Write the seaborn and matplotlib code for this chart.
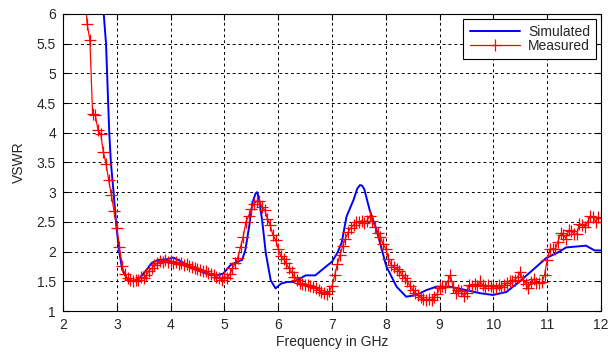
import numpy as np
import pandas as pd
import matplotlib
matplotlib.use("Agg")
import matplotlib.pyplot as plt
import seaborn as sns
from matplotlib.ticker import FuncFormatter

# ---- data ----
sim_freq = [2.74, 2.80, 2.82, 2.84, 2.86, 2.89, 2.94, 2.99, 3.04, 3.10, 3.19, 3.31, 3.43, 3.56,
            3.65, 3.77, 3.93, 4.05, 4.14, 4.30, 4.48, 4.66, 4.86, 4.98, 5.11, 5.24, 5.33, 5.39,
            5.46, 5.52, 5.58, 5.61, 5.64, 5.70, 5.77, 5.86, 5.95, 6.05, 6.17, 6.29, 6.41, 6.51,
            6.69, 6.85, 7.00, 7.10, 7.18, 7.27, 7.40, 7.47, 7.52, 7.56, 7.60, 7.70, 7.83, 8.01,
            8.20, 8.38, 8.57, 8.75, 8.94, 9.19, 9.50, 9.75, 9.99, 10.24, 10.48, 10.73, 10.98,
            11.23, 11.35, 11.60, 11.72, 11.88, 12.00]
sim_vswr = [6.20, 5.50, 5.00, 4.50, 4.00, 3.50, 3.00, 2.45, 2.03, 1.70, 1.54, 1.50, 1.56, 1.70,
            1.81, 1.86, 1.87, 1.90, 1.86, 1.78, 1.70, 1.63, 1.60, 1.63, 1.77, 1.83, 1.86, 2.03,
            2.42, 2.82, 2.98, 3.00, 2.90, 2.54, 1.97, 1.52, 1.38, 1.46, 1.49, 1.49, 1.55, 1.60,
            1.60, 1.72, 1.83, 1.98, 2.15, 2.59, 2.87, 3.06, 3.12, 3.11, 3.05, 2.70, 2.36, 1.75,
            1.41, 1.24, 1.27, 1.35, 1.41, 1.41, 1.35, 1.30, 1.27, 1.32, 1.49, 1.69, 1.89,
            2.00, 2.07, 2.09, 2.10, 2.02, 2.02]

meas_start, meas_stop = 2.40, 12.00
meas_vswr = [6.40,
    5.83, 5.56, 4.32, 4.30, 4.05, 3.98, 3.68, 3.48, 3.20, 2.95, 2.68, 2.40, 2.08, 1.75, 1.62, 1.55,
    1.52, 1.51, 1.53, 1.52, 1.57, 1.55, 1.60, 1.68, 1.72, 1.78, 1.80, 1.84, 1.82, 1.86, 1.83, 1.84,
    1.80, 1.82, 1.79, 1.81, 1.78, 1.79, 1.75, 1.74, 1.72, 1.70, 1.69, 1.67, 1.68, 1.64, 1.63, 1.61,
    1.58, 1.55, 1.53, 1.58, 1.56, 1.62, 1.72, 1.80, 1.90, 2.08, 2.25, 2.50, 2.60, 2.72, 2.80, 2.85,
    2.85, 2.75, 2.70, 2.55, 2.45, 2.28, 2.20, 2.05, 1.92, 1.88, 1.80, 1.72, 1.65, 1.58, 1.52, 1.47,
    1.45, 1.43, 1.44, 1.42, 1.40, 1.38, 1.35, 1.32, 1.30, 1.29, 1.33, 1.42, 1.60, 1.79, 1.95, 2.10,
    2.22, 2.33, 2.40, 2.45, 2.50, 2.50, 2.52, 2.48, 2.52, 2.60, 2.52, 2.42, 2.32, 2.25, 2.12, 2.05,
    1.88, 1.78, 1.74, 1.71, 1.68, 1.61, 1.56, 1.50, 1.42, 1.36, 1.30, 1.27, 1.23, 1.20, 1.18, 1.20,
    1.18, 1.24, 1.28, 1.38, 1.42, 1.40, 1.50, 1.60, 1.40, 1.31, 1.35, 1.33, 1.25, 1.30, 1.44, 1.42,
    1.45, 1.42, 1.50, 1.44, 1.39, 1.43, 1.42, 1.39, 1.38, 1.43, 1.41, 1.43, 1.47, 1.51, 1.50, 1.53,
    1.57, 1.65, 1.53, 1.45, 1.39, 1.48, 1.54, 1.47, 1.47, 1.48, 1.61, 1.86, 2.04, 2.05, 2.04, 2.17,
    2.31, 2.28, 2.22, 2.36, 2.35, 2.30, 2.29, 2.47, 2.45, 2.42, 2.50, 2.60, 2.58, 2.50, 2.58, 2.56]
meas_freq = np.linspace(meas_start, meas_stop, len(meas_vswr))

x_ticks = [2, 3, 4, 5, 6, 7, 8, 9, 10, 11, 12]
y_ticks = [1, 1.5, 2, 2.5, 3, 3.5, 4, 4.5, 5, 5.5, 6]

sim_df = pd.DataFrame({"freq": sim_freq, "vswr": sim_vswr})
meas_df = pd.DataFrame({"freq": meas_freq, "vswr": meas_vswr})

# ---- style ----
sns.set_style("white")
plt.rcParams["font.family"] = ["Liberation Sans", "DejaVu Sans"]
plt.rcParams["font.size"] = 10

fig = plt.figure(figsize=(6.08, 3.56), dpi=100)
ax = fig.add_axes([0.1036, 0.1264, 0.8849, 0.8343])

sns.lineplot(data=sim_df, x="freq", y="vswr", ax=ax, color="#0000ff", linewidth=1.4,
             label="Simulated", estimator=None, sort=False)
sns.lineplot(data=meas_df, x="freq", y="vswr", ax=ax, color="#ff0000", linewidth=0.9,
             marker="+", markersize=8, markeredgewidth=0.9, markeredgecolor="#ff0000",
             markerfacecolor="#ff0000", label="Measured", estimator=None, sort=False)

ax.set_xlim(2, 12)
ax.set_ylim(1, 6)
ax.set_xticks(x_ticks)
ax.set_yticks(y_ticks)
ax.yaxis.set_major_formatter(FuncFormatter(lambda v, p: f"{v:g}"))
ax.set_axisbelow(True)
ax.grid(True, color="black", linestyle=(0, (3, 3)), linewidth=0.7)
ax.tick_params(direction="in", length=4, width=0.8, labelsize=10, color="black",
               top=True, right=True, bottom=True, left=True, pad=5)
for s in ax.spines.values():
    s.set_color("black")
    s.set_linewidth(0.8)
ax.set_xlabel("Frequency in GHz", fontsize=10, labelpad=2)
ax.set_ylabel("VSWR", fontsize=10, labelpad=8)

leg = ax.legend(loc="upper right", fancybox=False, edgecolor="black", framealpha=1,
                borderaxespad=0.35, handlelength=3.6, handletextpad=0.6, borderpad=0.45,
                labelspacing=0.0, fontsize=10)
leg.get_frame().set_linewidth(0.8)

fig.savefig("out.png", dpi=100)
